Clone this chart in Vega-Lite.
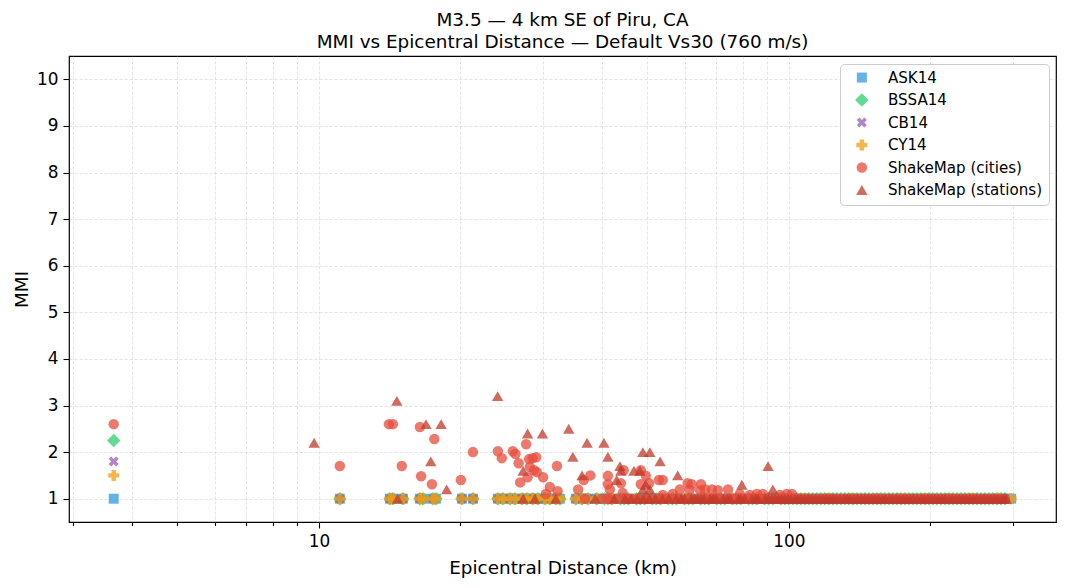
{"$schema":"https://vega.github.io/schema/vega-lite/v6.json","width":987,"height":466,"autosize":"none","padding":{"left":69,"top":56,"right":11,"bottom":66},"background":"white",
"title":{"text":["M3.5 — 4 km SE of Piru, CA","MMI vs Epicentral Distance — Default Vs30 (760 m/s)"],"font":"DejaVu Sans","fontSize":18.4,"fontWeight":"normal","color":"black","anchor":"middle","frame":"group","lineHeight":21.5,"offset":5},
"data":{"values":[
{"model":"ASK14","km":3.66,"mmi":1},{"model":"ASK14","km":11.08,"mmi":1},{"model":"ASK14","km":14.16,"mmi":1},{"model":"ASK14","km":14.37,"mmi":1},{"model":"ASK14","km":15.09,"mmi":1},{"model":"ASK14","km":16.4,"mmi":1},{"model":"ASK14","km":16.65,"mmi":1},{"model":"ASK14","km":17.48,"mmi":1},{"model":"ASK14","km":17.74,"mmi":1},{"model":"ASK14","km":20.15,"mmi":1},{"model":"ASK14","km":21.27,"mmi":1},{"model":"ASK14","km":24.03,"mmi":1},{"model":"ASK14","km":24.63,"mmi":1},{"model":"ASK14","km":25.5,"mmi":1},{"model":"ASK14","km":26.12,"mmi":1},{"model":"ASK14","km":27.04,"mmi":1},{"model":"ASK14","km":27.71,"mmi":1},{"model":"ASK14","km":28.53,"mmi":1},{"model":"ASK14","km":29.24,"mmi":1},{"model":"ASK14","km":30.26,"mmi":1},{"model":"ASK14","km":31.01,"mmi":1},{"model":"ASK14","km":31.94,"mmi":1},{"model":"ASK14","km":32.57,"mmi":1},{"model":"ASK14","km":35.22,"mmi":1},{"model":"ASK14","km":36.28,"mmi":1},{"model":"ASK14","km":37.36,"mmi":1},{"model":"ASK14","km":39,"mmi":1},{"model":"ASK14","km":40.5,"mmi":1},{"model":"ASK14","km":42,"mmi":1},{"model":"ASK14","km":43.8,"mmi":1},{"model":"ASK14","km":45.5,"mmi":1},{"model":"ASK14","km":47.4,"mmi":1},{"model":"ASK14","km":49.3,"mmi":1},{"model":"ASK14","km":51.2,"mmi":1},{"model":"ASK14","km":53.3,"mmi":1},{"model":"ASK14","km":55.4,"mmi":1},{"model":"ASK14","km":57.6,"mmi":1},{"model":"ASK14","km":60,"mmi":1},{"model":"ASK14","km":62.4,"mmi":1},{"model":"ASK14","km":64.9,"mmi":1},{"model":"ASK14","km":67.5,"mmi":1},{"model":"ASK14","km":70.2,"mmi":1},{"model":"ASK14","km":73,"mmi":1},{"model":"ASK14","km":75.9,"mmi":1},{"model":"ASK14","km":79,"mmi":1},{"model":"ASK14","km":82.1,"mmi":1},{"model":"ASK14","km":85.4,"mmi":1},{"model":"ASK14","km":88.8,"mmi":1},{"model":"ASK14","km":92.4,"mmi":1},{"model":"ASK14","km":96.1,"mmi":1},{"model":"ASK14","km":99.9,"mmi":1},{"model":"ASK14","km":103.9,"mmi":1},{"model":"ASK14","km":108.1,"mmi":1},{"model":"ASK14","km":112.4,"mmi":1},{"model":"ASK14","km":116.9,"mmi":1},{"model":"ASK14","km":121.6,"mmi":1},{"model":"ASK14","km":126.5,"mmi":1},{"model":"ASK14","km":131.5,"mmi":1},{"model":"ASK14","km":136.8,"mmi":1},{"model":"ASK14","km":142.3,"mmi":1},{"model":"ASK14","km":148,"mmi":1},{"model":"ASK14","km":153.9,"mmi":1},{"model":"ASK14","km":160,"mmi":1},{"model":"ASK14","km":166.4,"mmi":1},{"model":"ASK14","km":173.1,"mmi":1},{"model":"ASK14","km":180,"mmi":1},{"model":"ASK14","km":187.2,"mmi":1},{"model":"ASK14","km":194.7,"mmi":1},{"model":"ASK14","km":202.5,"mmi":1},{"model":"ASK14","km":210.6,"mmi":1},{"model":"ASK14","km":219,"mmi":1},{"model":"ASK14","km":227.8,"mmi":1},{"model":"ASK14","km":236.9,"mmi":1},{"model":"ASK14","km":246.3,"mmi":1},{"model":"ASK14","km":256.2,"mmi":1},{"model":"ASK14","km":266.4,"mmi":1},{"model":"ASK14","km":277.1,"mmi":1},{"model":"ASK14","km":288.2,"mmi":1},{"model":"ASK14","km":297,"mmi":1},
{"model":"BSSA14","km":3.66,"mmi":2.25},{"model":"BSSA14","km":11.08,"mmi":1},{"model":"BSSA14","km":14.16,"mmi":1},{"model":"BSSA14","km":14.37,"mmi":1},{"model":"BSSA14","km":15.09,"mmi":1},{"model":"BSSA14","km":16.4,"mmi":1},{"model":"BSSA14","km":16.65,"mmi":1},{"model":"BSSA14","km":17.48,"mmi":1},{"model":"BSSA14","km":17.74,"mmi":1},{"model":"BSSA14","km":20.15,"mmi":1},{"model":"BSSA14","km":21.27,"mmi":1},{"model":"BSSA14","km":24.03,"mmi":1},{"model":"BSSA14","km":24.63,"mmi":1},{"model":"BSSA14","km":25.5,"mmi":1},{"model":"BSSA14","km":26.12,"mmi":1},{"model":"BSSA14","km":27.04,"mmi":1},{"model":"BSSA14","km":27.71,"mmi":1},{"model":"BSSA14","km":28.53,"mmi":1},{"model":"BSSA14","km":29.24,"mmi":1},{"model":"BSSA14","km":30.26,"mmi":1},{"model":"BSSA14","km":31.01,"mmi":1},{"model":"BSSA14","km":31.94,"mmi":1},{"model":"BSSA14","km":32.57,"mmi":1},{"model":"BSSA14","km":35.22,"mmi":1},{"model":"BSSA14","km":36.28,"mmi":1},{"model":"BSSA14","km":37.36,"mmi":1},{"model":"BSSA14","km":39,"mmi":1},{"model":"BSSA14","km":40.5,"mmi":1},{"model":"BSSA14","km":41.2,"mmi":1},{"model":"BSSA14","km":42,"mmi":1},{"model":"BSSA14","km":43.8,"mmi":1},{"model":"BSSA14","km":44.6,"mmi":1},{"model":"BSSA14","km":45.5,"mmi":1},{"model":"BSSA14","km":47.4,"mmi":1},{"model":"BSSA14","km":48.3,"mmi":1},{"model":"BSSA14","km":49.3,"mmi":1},{"model":"BSSA14","km":51.2,"mmi":1},{"model":"BSSA14","km":52.2,"mmi":1},{"model":"BSSA14","km":53.3,"mmi":1},{"model":"BSSA14","km":55.4,"mmi":1},{"model":"BSSA14","km":56.5,"mmi":1},{"model":"BSSA14","km":57.6,"mmi":1},{"model":"BSSA14","km":60,"mmi":1},{"model":"BSSA14","km":61.2,"mmi":1},{"model":"BSSA14","km":62.4,"mmi":1},{"model":"BSSA14","km":64.9,"mmi":1},{"model":"BSSA14","km":66.2,"mmi":1},{"model":"BSSA14","km":67.5,"mmi":1},{"model":"BSSA14","km":70.2,"mmi":1},{"model":"BSSA14","km":71.6,"mmi":1},{"model":"BSSA14","km":73,"mmi":1},{"model":"BSSA14","km":75.9,"mmi":1},{"model":"BSSA14","km":77.4,"mmi":1},{"model":"BSSA14","km":79,"mmi":1},{"model":"BSSA14","km":82.1,"mmi":1},{"model":"BSSA14","km":83.7,"mmi":1},{"model":"BSSA14","km":85.4,"mmi":1},{"model":"BSSA14","km":88.8,"mmi":1},{"model":"BSSA14","km":90.6,"mmi":1},{"model":"BSSA14","km":92.4,"mmi":1},{"model":"BSSA14","km":96.1,"mmi":1},{"model":"BSSA14","km":98,"mmi":1},{"model":"BSSA14","km":99.9,"mmi":1},{"model":"BSSA14","km":102,"mmi":1},{"model":"BSSA14","km":103.9,"mmi":1},{"model":"BSSA14","km":106,"mmi":1},{"model":"BSSA14","km":108.1,"mmi":1},{"model":"BSSA14","km":110.2,"mmi":1},{"model":"BSSA14","km":112.4,"mmi":1},{"model":"BSSA14","km":114.6,"mmi":1},{"model":"BSSA14","km":116.9,"mmi":1},{"model":"BSSA14","km":119.2,"mmi":1},{"model":"BSSA14","km":121.6,"mmi":1},{"model":"BSSA14","km":124,"mmi":1},{"model":"BSSA14","km":126.5,"mmi":1},{"model":"BSSA14","km":129,"mmi":1},{"model":"BSSA14","km":131.5,"mmi":1},{"model":"BSSA14","km":134.1,"mmi":1},{"model":"BSSA14","km":136.8,"mmi":1},{"model":"BSSA14","km":139.5,"mmi":1},{"model":"BSSA14","km":142.3,"mmi":1},{"model":"BSSA14","km":145.1,"mmi":1},{"model":"BSSA14","km":148,"mmi":1},{"model":"BSSA14","km":150.9,"mmi":1},{"model":"BSSA14","km":153.9,"mmi":1},{"model":"BSSA14","km":156.9,"mmi":1},{"model":"BSSA14","km":160,"mmi":1},{"model":"BSSA14","km":163.2,"mmi":1},{"model":"BSSA14","km":166.4,"mmi":1},{"model":"BSSA14","km":169.7,"mmi":1},{"model":"BSSA14","km":173.1,"mmi":1},{"model":"BSSA14","km":176.5,"mmi":1},{"model":"BSSA14","km":180,"mmi":1},{"model":"BSSA14","km":183.6,"mmi":1},{"model":"BSSA14","km":187.2,"mmi":1},{"model":"BSSA14","km":190.9,"mmi":1},{"model":"BSSA14","km":194.7,"mmi":1},{"model":"BSSA14","km":198.6,"mmi":1},{"model":"BSSA14","km":202.5,"mmi":1},{"model":"BSSA14","km":206.5,"mmi":1},{"model":"BSSA14","km":210.6,"mmi":1},{"model":"BSSA14","km":214.8,"mmi":1},{"model":"BSSA14","km":219,"mmi":1},{"model":"BSSA14","km":223.4,"mmi":1},{"model":"BSSA14","km":227.8,"mmi":1},{"model":"BSSA14","km":232.3,"mmi":1},{"model":"BSSA14","km":236.9,"mmi":1},{"model":"BSSA14","km":241.6,"mmi":1},{"model":"BSSA14","km":246.3,"mmi":1},{"model":"BSSA14","km":251.2,"mmi":1},{"model":"BSSA14","km":256.2,"mmi":1},{"model":"BSSA14","km":261.3,"mmi":1},{"model":"BSSA14","km":266.4,"mmi":1},{"model":"BSSA14","km":271.7,"mmi":1},{"model":"BSSA14","km":277.1,"mmi":1},{"model":"BSSA14","km":282.6,"mmi":1},{"model":"BSSA14","km":288.2,"mmi":1},
{"model":"CB14","km":3.66,"mmi":1.8},{"model":"CB14","km":11.08,"mmi":1},{"model":"CB14","km":14.16,"mmi":1},{"model":"CB14","km":15.09,"mmi":1},{"model":"CB14","km":16.4,"mmi":1},{"model":"CB14","km":17.48,"mmi":1},{"model":"CB14","km":20.15,"mmi":1},{"model":"CB14","km":21.27,"mmi":1},{"model":"CB14","km":24.03,"mmi":1},{"model":"CB14","km":25.5,"mmi":1},{"model":"CB14","km":27.04,"mmi":1},{"model":"CB14","km":28.53,"mmi":1},{"model":"CB14","km":30.26,"mmi":1},{"model":"CB14","km":31.94,"mmi":1},{"model":"CB14","km":35.22,"mmi":1},{"model":"CB14","km":37.36,"mmi":1},{"model":"CB14","km":42,"mmi":1},{"model":"CB14","km":47.4,"mmi":1},{"model":"CB14","km":53.3,"mmi":1},{"model":"CB14","km":60,"mmi":1},{"model":"CB14","km":67.5,"mmi":1},{"model":"CB14","km":75.9,"mmi":1},{"model":"CB14","km":85.4,"mmi":1},{"model":"CB14","km":96.1,"mmi":1},{"model":"CB14","km":108.1,"mmi":1},{"model":"CB14","km":121.6,"mmi":1},{"model":"CB14","km":136.8,"mmi":1},{"model":"CB14","km":153.9,"mmi":1},{"model":"CB14","km":173.1,"mmi":1},{"model":"CB14","km":194.7,"mmi":1},{"model":"CB14","km":219,"mmi":1},{"model":"CB14","km":246.3,"mmi":1},{"model":"CB14","km":277.1,"mmi":1},
{"model":"CY14","km":3.66,"mmi":1.5},{"model":"CY14","km":11.08,"mmi":1},{"model":"CY14","km":14.16,"mmi":1},{"model":"CY14","km":14.37,"mmi":1},{"model":"CY14","km":15.09,"mmi":1},{"model":"CY14","km":16.4,"mmi":1},{"model":"CY14","km":16.65,"mmi":1},{"model":"CY14","km":17.48,"mmi":1},{"model":"CY14","km":17.74,"mmi":1},{"model":"CY14","km":20.15,"mmi":1},{"model":"CY14","km":21.27,"mmi":1},{"model":"CY14","km":24.03,"mmi":1},{"model":"CY14","km":24.63,"mmi":1},{"model":"CY14","km":25.5,"mmi":1},{"model":"CY14","km":26.12,"mmi":1},{"model":"CY14","km":27.04,"mmi":1},{"model":"CY14","km":27.71,"mmi":1},{"model":"CY14","km":28.53,"mmi":1},{"model":"CY14","km":29.24,"mmi":1},{"model":"CY14","km":30.26,"mmi":1},{"model":"CY14","km":31.01,"mmi":1},{"model":"CY14","km":31.94,"mmi":1},{"model":"CY14","km":32.57,"mmi":1},{"model":"CY14","km":35.22,"mmi":1},{"model":"CY14","km":36.28,"mmi":1},{"model":"CY14","km":37.36,"mmi":1},{"model":"CY14","km":39,"mmi":1},{"model":"CY14","km":42,"mmi":1},{"model":"CY14","km":47.4,"mmi":1},{"model":"CY14","km":53.3,"mmi":1},{"model":"CY14","km":60,"mmi":1},{"model":"CY14","km":67.5,"mmi":1},{"model":"CY14","km":75.9,"mmi":1},{"model":"CY14","km":85.4,"mmi":1},{"model":"CY14","km":96.1,"mmi":1},{"model":"CY14","km":108.1,"mmi":1},{"model":"CY14","km":121.6,"mmi":1},{"model":"CY14","km":136.8,"mmi":1},{"model":"CY14","km":153.9,"mmi":1},{"model":"CY14","km":173.1,"mmi":1},{"model":"CY14","km":194.7,"mmi":1},{"model":"CY14","km":219,"mmi":1},{"model":"CY14","km":246.3,"mmi":1},{"model":"CY14","km":277.1,"mmi":1},{"model":"CY14","km":297,"mmi":1},
{"model":"ShakeMap (cities)","km":3.66,"mmi":2.6},{"model":"ShakeMap (cities)","km":11.08,"mmi":1.7},{"model":"ShakeMap (cities)","km":14.09,"mmi":2.6},{"model":"ShakeMap (cities)","km":14.37,"mmi":2.6},{"model":"ShakeMap (cities)","km":15.01,"mmi":1.7},{"model":"ShakeMap (cities)","km":16.4,"mmi":2.54},{"model":"ShakeMap (cities)","km":17.6,"mmi":2.28},{"model":"ShakeMap (cities)","km":16.5,"mmi":1.48},{"model":"ShakeMap (cities)","km":17.4,"mmi":1.31},{"model":"ShakeMap (cities)","km":20.05,"mmi":1.4},{"model":"ShakeMap (cities)","km":21.27,"mmi":2},{"model":"ShakeMap (cities)","km":24.03,"mmi":2.02},{"model":"ShakeMap (cities)","km":24.5,"mmi":1.87},{"model":"ShakeMap (cities)","km":25.85,"mmi":2.02},{"model":"ShakeMap (cities)","km":26.2,"mmi":1.96},{"model":"ShakeMap (cities)","km":26.6,"mmi":1.76},{"model":"ShakeMap (cities)","km":27.6,"mmi":2.17},{"model":"ShakeMap (cities)","km":28,"mmi":1.85},{"model":"ShakeMap (cities)","km":28.5,"mmi":1.87},{"model":"ShakeMap (cities)","km":29,"mmi":1.89},{"model":"ShakeMap (cities)","km":28.1,"mmi":1.68},{"model":"ShakeMap (cities)","km":28.7,"mmi":1.61},{"model":"ShakeMap (cities)","km":29.1,"mmi":1.57},{"model":"ShakeMap (cities)","km":27.8,"mmi":1.46},{"model":"ShakeMap (cities)","km":26.8,"mmi":1.35},{"model":"ShakeMap (cities)","km":30,"mmi":1.46},{"model":"ShakeMap (cities)","km":32.1,"mmi":1.7},{"model":"ShakeMap (cities)","km":31,"mmi":1.25},{"model":"ShakeMap (cities)","km":32.2,"mmi":1.16},{"model":"ShakeMap (cities)","km":30.4,"mmi":1.1},{"model":"ShakeMap (cities)","km":35.6,"mmi":1.2},{"model":"ShakeMap (cities)","km":36.6,"mmi":1.4},{"model":"ShakeMap (cities)","km":37.8,"mmi":1.5},{"model":"ShakeMap (cities)","km":36.8,"mmi":1},{"model":"ShakeMap (cities)","km":41.2,"mmi":1.49},{"model":"ShakeMap (cities)","km":41.2,"mmi":1.31},{"model":"ShakeMap (cities)","km":41.6,"mmi":1.2},{"model":"ShakeMap (cities)","km":44.5,"mmi":1.61},{"model":"ShakeMap (cities)","km":43.9,"mmi":1.33},{"model":"ShakeMap (cities)","km":44.3,"mmi":1.12},{"model":"ShakeMap (cities)","km":48.4,"mmi":1.61},{"model":"ShakeMap (cities)","km":49.6,"mmi":1.49},{"model":"ShakeMap (cities)","km":48.4,"mmi":1.31},{"model":"ShakeMap (cities)","km":50.4,"mmi":1.33},{"model":"ShakeMap (cities)","km":52.9,"mmi":1.4},{"model":"ShakeMap (cities)","km":53.9,"mmi":1.4},{"model":"ShakeMap (cities)","km":53.9,"mmi":1.08},{"model":"ShakeMap (cities)","km":58.6,"mmi":1.2},{"model":"ShakeMap (cities)","km":56.6,"mmi":1.1},{"model":"ShakeMap (cities)","km":60.9,"mmi":1.33},{"model":"ShakeMap (cities)","km":62.1,"mmi":1.31},{"model":"ShakeMap (cities)","km":65,"mmi":1.31},{"model":"ShakeMap (cities)","km":61.5,"mmi":1.2},{"model":"ShakeMap (cities)","km":64.7,"mmi":1.18},{"model":"ShakeMap (cities)","km":66.3,"mmi":1.2},{"model":"ShakeMap (cities)","km":68.6,"mmi":1.2},{"model":"ShakeMap (cities)","km":70.6,"mmi":1.18},{"model":"ShakeMap (cities)","km":74.2,"mmi":1.2},{"model":"ShakeMap (cities)","km":78.6,"mmi":1.1},{"model":"ShakeMap (cities)","km":82.6,"mmi":1.08},{"model":"ShakeMap (cities)","km":85.5,"mmi":1.1},{"model":"ShakeMap (cities)","km":88,"mmi":1.1},{"model":"ShakeMap (cities)","km":95.7,"mmi":1.08},{"model":"ShakeMap (cities)","km":99,"mmi":1.1},{"model":"ShakeMap (cities)","km":101.5,"mmi":1.1},
{"model":"ShakeMap (cities)","km":40,"mmi":1},{"model":"ShakeMap (cities)","km":41,"mmi":1},{"model":"ShakeMap (cities)","km":41.5,"mmi":1},{"model":"ShakeMap (cities)","km":43,"mmi":1},{"model":"ShakeMap (cities)","km":44.5,"mmi":1},{"model":"ShakeMap (cities)","km":45.2,"mmi":1},{"model":"ShakeMap (cities)","km":46,"mmi":1},{"model":"ShakeMap (cities)","km":47.7,"mmi":1},{"model":"ShakeMap (cities)","km":49.3,"mmi":1},{"model":"ShakeMap (cities)","km":50.1,"mmi":1},{"model":"ShakeMap (cities)","km":51,"mmi":1},{"model":"ShakeMap (cities)","km":52.8,"mmi":1},{"model":"ShakeMap (cities)","km":53.7,"mmi":1},{"model":"ShakeMap (cities)","km":54.7,"mmi":1},{"model":"ShakeMap (cities)","km":56.6,"mmi":1},{"model":"ShakeMap (cities)","km":57.6,"mmi":1},{"model":"ShakeMap (cities)","km":58.6,"mmi":1},{"model":"ShakeMap (cities)","km":60.6,"mmi":1},{"model":"ShakeMap (cities)","km":61.6,"mmi":1},{"model":"ShakeMap (cities)","km":62.7,"mmi":1},{"model":"ShakeMap (cities)","km":64.9,"mmi":1},{"model":"ShakeMap (cities)","km":66,"mmi":1},{"model":"ShakeMap (cities)","km":67.2,"mmi":1},{"model":"ShakeMap (cities)","km":68.3,"mmi":1},{"model":"ShakeMap (cities)","km":69.5,"mmi":1},{"model":"ShakeMap (cities)","km":70.7,"mmi":1},{"model":"ShakeMap (cities)","km":72,"mmi":1},{"model":"ShakeMap (cities)","km":73.2,"mmi":1},{"model":"ShakeMap (cities)","km":74.5,"mmi":1},{"model":"ShakeMap (cities)","km":75.8,"mmi":1},{"model":"ShakeMap (cities)","km":77.1,"mmi":1},{"model":"ShakeMap (cities)","km":78.4,"mmi":1},{"model":"ShakeMap (cities)","km":79.8,"mmi":1},{"model":"ShakeMap (cities)","km":81.2,"mmi":1},{"model":"ShakeMap (cities)","km":82.6,"mmi":1},{"model":"ShakeMap (cities)","km":84,"mmi":1},{"model":"ShakeMap (cities)","km":85.5,"mmi":1},{"model":"ShakeMap (cities)","km":87,"mmi":1},{"model":"ShakeMap (cities)","km":88.5,"mmi":1},{"model":"ShakeMap (cities)","km":90,"mmi":1},{"model":"ShakeMap (cities)","km":91.6,"mmi":1},{"model":"ShakeMap (cities)","km":93.2,"mmi":1},{"model":"ShakeMap (cities)","km":94.8,"mmi":1},{"model":"ShakeMap (cities)","km":96.4,"mmi":1},{"model":"ShakeMap (cities)","km":98.1,"mmi":1},{"model":"ShakeMap (cities)","km":99.8,"mmi":1},{"model":"ShakeMap (cities)","km":101.5,"mmi":1},{"model":"ShakeMap (cities)","km":103.2,"mmi":1},{"model":"ShakeMap (cities)","km":105,"mmi":1},{"model":"ShakeMap (cities)","km":106.8,"mmi":1},{"model":"ShakeMap (cities)","km":108.7,"mmi":1},{"model":"ShakeMap (cities)","km":110.6,"mmi":1},{"model":"ShakeMap (cities)","km":112.5,"mmi":1},{"model":"ShakeMap (cities)","km":114.5,"mmi":1},{"model":"ShakeMap (cities)","km":116.5,"mmi":1},{"model":"ShakeMap (cities)","km":118.5,"mmi":1},{"model":"ShakeMap (cities)","km":120.6,"mmi":1},{"model":"ShakeMap (cities)","km":122.7,"mmi":1},{"model":"ShakeMap (cities)","km":124.8,"mmi":1},{"model":"ShakeMap (cities)","km":126.9,"mmi":1},{"model":"ShakeMap (cities)","km":129.2,"mmi":1},{"model":"ShakeMap (cities)","km":131.5,"mmi":1},{"model":"ShakeMap (cities)","km":133.7,"mmi":1},{"model":"ShakeMap (cities)","km":136,"mmi":1},{"model":"ShakeMap (cities)","km":138.4,"mmi":1},{"model":"ShakeMap (cities)","km":141,"mmi":1},{"model":"ShakeMap (cities)","km":143.2,"mmi":1},{"model":"ShakeMap (cities)","km":145.7,"mmi":1},{"model":"ShakeMap (cities)","km":148.2,"mmi":1},{"model":"ShakeMap (cities)","km":151,"mmi":1},{"model":"ShakeMap (cities)","km":153.4,"mmi":1},{"model":"ShakeMap (cities)","km":156,"mmi":1},{"model":"ShakeMap (cities)","km":158.8,"mmi":1},{"model":"ShakeMap (cities)","km":162,"mmi":1},{"model":"ShakeMap (cities)","km":164.4,"mmi":1},{"model":"ShakeMap (cities)","km":167,"mmi":1},{"model":"ShakeMap (cities)","km":170.1,"mmi":1},{"model":"ShakeMap (cities)","km":173,"mmi":1},{"model":"ShakeMap (cities)","km":176.1,"mmi":1},{"model":"ShakeMap (cities)","km":179,"mmi":1},{"model":"ShakeMap (cities)","km":182.2,"mmi":1},{"model":"ShakeMap (cities)","km":185,"mmi":1},{"model":"ShakeMap (cities)","km":188.6,"mmi":1},{"model":"ShakeMap (cities)","km":192,"mmi":1},{"model":"ShakeMap (cities)","km":195.2,"mmi":1},{"model":"ShakeMap (cities)","km":198.5,"mmi":1},{"model":"ShakeMap (cities)","km":202,"mmi":1},{"model":"ShakeMap (cities)","km":205.5,"mmi":1},{"model":"ShakeMap (cities)","km":209.1,"mmi":1},{"model":"ShakeMap (cities)","km":212.7,"mmi":1},{"model":"ShakeMap (cities)","km":216.4,"mmi":1},{"model":"ShakeMap (cities)","km":220,"mmi":1},{"model":"ShakeMap (cities)","km":224,"mmi":1},{"model":"ShakeMap (cities)","km":228,"mmi":1},{"model":"ShakeMap (cities)","km":231.8,"mmi":1},{"model":"ShakeMap (cities)","km":236,"mmi":1},{"model":"ShakeMap (cities)","km":239.9,"mmi":1},{"model":"ShakeMap (cities)","km":244,"mmi":1},{"model":"ShakeMap (cities)","km":248.3,"mmi":1},{"model":"ShakeMap (cities)","km":252.5,"mmi":1},{"model":"ShakeMap (cities)","km":257,"mmi":1},{"model":"ShakeMap (cities)","km":261,"mmi":1},{"model":"ShakeMap (cities)","km":266,"mmi":1},{"model":"ShakeMap (cities)","km":271,"mmi":1},{"model":"ShakeMap (cities)","km":275.3,"mmi":1},{"model":"ShakeMap (cities)","km":280,"mmi":1},{"model":"ShakeMap (cities)","km":284.9,"mmi":1},{"model":"ShakeMap (cities)","km":288,"mmi":1},
{"model":"ShakeMap (stations)","km":9.77,"mmi":2.2},{"model":"ShakeMap (stations)","km":14.65,"mmi":3.1},{"model":"ShakeMap (stations)","km":16.9,"mmi":2.6},{"model":"ShakeMap (stations)","km":18.2,"mmi":2.6},{"model":"ShakeMap (stations)","km":17.3,"mmi":1.8},{"model":"ShakeMap (stations)","km":18.7,"mmi":1.2},{"model":"ShakeMap (stations)","km":14.7,"mmi":1},{"model":"ShakeMap (stations)","km":24,"mmi":3.2},{"model":"ShakeMap (stations)","km":27.8,"mmi":2.4},{"model":"ShakeMap (stations)","km":29.9,"mmi":2.4},{"model":"ShakeMap (stations)","km":34,"mmi":2.5},{"model":"ShakeMap (stations)","km":34.7,"mmi":1.9},{"model":"ShakeMap (stations)","km":37.2,"mmi":2.2},{"model":"ShakeMap (stations)","km":40.4,"mmi":2.2},{"model":"ShakeMap (stations)","km":41.2,"mmi":1.9},{"model":"ShakeMap (stations)","km":36.3,"mmi":1.5},{"model":"ShakeMap (stations)","km":27.2,"mmi":1.6},{"model":"ShakeMap (stations)","km":43.7,"mmi":1.7},{"model":"ShakeMap (stations)","km":43.9,"mmi":1.6},{"model":"ShakeMap (stations)","km":43,"mmi":1.4},{"model":"ShakeMap (stations)","km":46.8,"mmi":1.6},{"model":"ShakeMap (stations)","km":48.2,"mmi":1.6},{"model":"ShakeMap (stations)","km":48.9,"mmi":2},{"model":"ShakeMap (stations)","km":50.6,"mmi":2},{"model":"ShakeMap (stations)","km":53.2,"mmi":1.8},{"model":"ShakeMap (stations)","km":58,"mmi":1.5},{"model":"ShakeMap (stations)","km":48.9,"mmi":1.2},{"model":"ShakeMap (stations)","km":50.6,"mmi":1.2},{"model":"ShakeMap (stations)","km":49.6,"mmi":1.3},{"model":"ShakeMap (stations)","km":79.4,"mmi":1.3},{"model":"ShakeMap (stations)","km":90.3,"mmi":1.7},{"model":"ShakeMap (stations)","km":92.4,"mmi":1.2},
{"model":"ShakeMap (stations)","km":27.2,"mmi":1},{"model":"ShakeMap (stations)","km":28.8,"mmi":1},{"model":"ShakeMap (stations)","km":31.9,"mmi":1},{"model":"ShakeMap (stations)","km":38.7,"mmi":1},{"model":"ShakeMap (stations)","km":42.5,"mmi":1},{"model":"ShakeMap (stations)","km":44.8,"mmi":1},{"model":"ShakeMap (stations)","km":46.2,"mmi":1},{"model":"ShakeMap (stations)","km":47.6,"mmi":1},{"model":"ShakeMap (stations)","km":49,"mmi":1},{"model":"ShakeMap (stations)","km":50.5,"mmi":1},{"model":"ShakeMap (stations)","km":52,"mmi":1},{"model":"ShakeMap (stations)","km":53.8,"mmi":1},{"model":"ShakeMap (stations)","km":55.5,"mmi":1},{"model":"ShakeMap (stations)","km":57.5,"mmi":1},{"model":"ShakeMap (stations)","km":59,"mmi":1},{"model":"ShakeMap (stations)","km":60,"mmi":1},{"model":"ShakeMap (stations)","km":62,"mmi":1},{"model":"ShakeMap (stations)","km":63,"mmi":1},{"model":"ShakeMap (stations)","km":64,"mmi":1},{"model":"ShakeMap (stations)","km":65,"mmi":1},{"model":"ShakeMap (stations)","km":66,"mmi":1},{"model":"ShakeMap (stations)","km":68,"mmi":1},{"model":"ShakeMap (stations)","km":69,"mmi":1},{"model":"ShakeMap (stations)","km":70,"mmi":1},{"model":"ShakeMap (stations)","km":72.5,"mmi":1},{"model":"ShakeMap (stations)","km":74,"mmi":1},{"model":"ShakeMap (stations)","km":75,"mmi":1},{"model":"ShakeMap (stations)","km":78,"mmi":1},{"model":"ShakeMap (stations)","km":79,"mmi":1},{"model":"ShakeMap (stations)","km":80.5,"mmi":1},{"model":"ShakeMap (stations)","km":83.5,"mmi":1},{"model":"ShakeMap (stations)","km":85,"mmi":1},{"model":"ShakeMap (stations)","km":86,"mmi":1},{"model":"ShakeMap (stations)","km":89,"mmi":1},{"model":"ShakeMap (stations)","km":90.5,"mmi":1},{"model":"ShakeMap (stations)","km":92,"mmi":1},{"model":"ShakeMap (stations)","km":93.5,"mmi":1},{"model":"ShakeMap (stations)","km":95,"mmi":1},{"model":"ShakeMap (stations)","km":96.5,"mmi":1},{"model":"ShakeMap (stations)","km":98,"mmi":1},{"model":"ShakeMap (stations)","km":99.5,"mmi":1},{"model":"ShakeMap (stations)","km":101,"mmi":1},{"model":"ShakeMap (stations)","km":103,"mmi":1},{"model":"ShakeMap (stations)","km":104.5,"mmi":1},{"model":"ShakeMap (stations)","km":106,"mmi":1},{"model":"ShakeMap (stations)","km":108,"mmi":1},{"model":"ShakeMap (stations)","km":110,"mmi":1},{"model":"ShakeMap (stations)","km":112,"mmi":1},{"model":"ShakeMap (stations)","km":114,"mmi":1},{"model":"ShakeMap (stations)","km":116,"mmi":1},{"model":"ShakeMap (stations)","km":118,"mmi":1},{"model":"ShakeMap (stations)","km":120,"mmi":1},{"model":"ShakeMap (stations)","km":122,"mmi":1},{"model":"ShakeMap (stations)","km":124,"mmi":1},{"model":"ShakeMap (stations)","km":126,"mmi":1},{"model":"ShakeMap (stations)","km":128.5,"mmi":1},{"model":"ShakeMap (stations)","km":131,"mmi":1},{"model":"ShakeMap (stations)","km":133,"mmi":1},{"model":"ShakeMap (stations)","km":135,"mmi":1},{"model":"ShakeMap (stations)","km":137.5,"mmi":1},{"model":"ShakeMap (stations)","km":140,"mmi":1},{"model":"ShakeMap (stations)","km":142.5,"mmi":1},{"model":"ShakeMap (stations)","km":145,"mmi":1},{"model":"ShakeMap (stations)","km":147.5,"mmi":1},{"model":"ShakeMap (stations)","km":150,"mmi":1},{"model":"ShakeMap (stations)","km":152.5,"mmi":1},{"model":"ShakeMap (stations)","km":155,"mmi":1},{"model":"ShakeMap (stations)","km":158,"mmi":1},{"model":"ShakeMap (stations)","km":160.5,"mmi":1},{"model":"ShakeMap (stations)","km":163.5,"mmi":1},{"model":"ShakeMap (stations)","km":166,"mmi":1},{"model":"ShakeMap (stations)","km":169,"mmi":1},{"model":"ShakeMap (stations)","km":172,"mmi":1},{"model":"ShakeMap (stations)","km":175,"mmi":1},{"model":"ShakeMap (stations)","km":178,"mmi":1},{"model":"ShakeMap (stations)","km":181,"mmi":1},{"model":"ShakeMap (stations)","km":184,"mmi":1},{"model":"ShakeMap (stations)","km":187.5,"mmi":1},{"model":"ShakeMap (stations)","km":191,"mmi":1},{"model":"ShakeMap (stations)","km":194,"mmi":1},{"model":"ShakeMap (stations)","km":197.5,"mmi":1},{"model":"ShakeMap (stations)","km":201,"mmi":1},{"model":"ShakeMap (stations)","km":204.5,"mmi":1},{"model":"ShakeMap (stations)","km":208,"mmi":1},{"model":"ShakeMap (stations)","km":211.5,"mmi":1},{"model":"ShakeMap (stations)","km":215,"mmi":1},{"model":"ShakeMap (stations)","km":219,"mmi":1},{"model":"ShakeMap (stations)","km":222.5,"mmi":1},{"model":"ShakeMap (stations)","km":226.5,"mmi":1},{"model":"ShakeMap (stations)","km":230.5,"mmi":1},{"model":"ShakeMap (stations)","km":234.5,"mmi":1},{"model":"ShakeMap (stations)","km":238.5,"mmi":1},{"model":"ShakeMap (stations)","km":243,"mmi":1},{"model":"ShakeMap (stations)","km":247,"mmi":1},{"model":"ShakeMap (stations)","km":251,"mmi":1},{"model":"ShakeMap (stations)","km":255.5,"mmi":1},{"model":"ShakeMap (stations)","km":260,"mmi":1},{"model":"ShakeMap (stations)","km":264.5,"mmi":1},{"model":"ShakeMap (stations)","km":269,"mmi":1},{"model":"ShakeMap (stations)","km":274,"mmi":1},{"model":"ShakeMap (stations)","km":278.5,"mmi":1},{"model":"ShakeMap (stations)","km":283.5,"mmi":1},{"model":"ShakeMap (stations)","km":287,"mmi":1},{"model":"ShakeMap (stations)","km":290,"mmi":1}
]},
"mark":{"type":"point","filled":true,"opacity":0.75,"strokeWidth":0},
"encoding":{
"x":{"field":"km","type":"quantitative","title":"Epicentral Distance (km)","scale":{"type":"log","domain":[2.94,370],"nice":false},
"axis":{"values":[3,4,5,6,7,8,9,10,20,30,40,50,60,70,80,90,100,200,300],"labelExpr":"datum.value == 10 || datum.value == 100 ? datum.value : ''","labelFlush":false,"labelOverlap":false,"labelPadding":5,"titlePadding":10,"tickSize":{"condition":{"test":"datum.value == 10 || datum.value == 100","value":6},"value":3.5}}},
"y":{"field":"mmi","type":"quantitative","title":"MMI","scale":{"domain":[0.5,10.5],"nice":false,"zero":false},
"axis":{"values":[1,2,3,4,5,6,7,8,9,10],"labelPadding":5,"titlePadding":5,"tickSize":6}},
"color":{"field":"model","type":"nominal","title":null,"scale":{"range":["#3498db","#2ecc71","#9b59b6","#f39c12","#e74c3c","#c0392b"]},
"legend":{"orient":"none","legendX":771,"legendY":8,"padding":6,"fillColor":"white","strokeColor":"#cccccc","cornerRadius":4,"labelFont":"DejaVu Sans","labelFontSize":15.1,"labelColor":"black","symbolOffset":8.3,"labelOffset":18.5,"rowPadding":6.5,"labelLimit":220,"symbolStrokeWidth":0}},
"shape":{"field":"model","type":"nominal","title":null,"scale":{"range":["square","diamond","M-1,-0.5L-0.5,-1L0,-0.5L0.5,-1L1,-0.5L0.5,0L1,0.5L0.5,1L0,0.5L-0.5,1L-1,0.5L-0.5,0Z","cross","circle","triangle-up"]}},
"size":{"field":"model","type":"nominal","title":null,"scale":{"type":"ordinal","range":[100,180,100,120,110,130]}}
},
"config":{"view":{"stroke":"black","strokeWidth":1.2},
"axis":{"domain":false,"grid":true,"gridColor":"#b0b0b0","gridDash":[3,2],"gridWidth":0.6,"gridOpacity":0.6,"tickColor":"black","tickWidth":1.1,"labelFont":"DejaVu Sans","labelFontSize":16.9,"labelColor":"black","titleFont":"DejaVu Sans","titleFontSize":18.4,"titleFontWeight":"normal","titleColor":"black"}}}
